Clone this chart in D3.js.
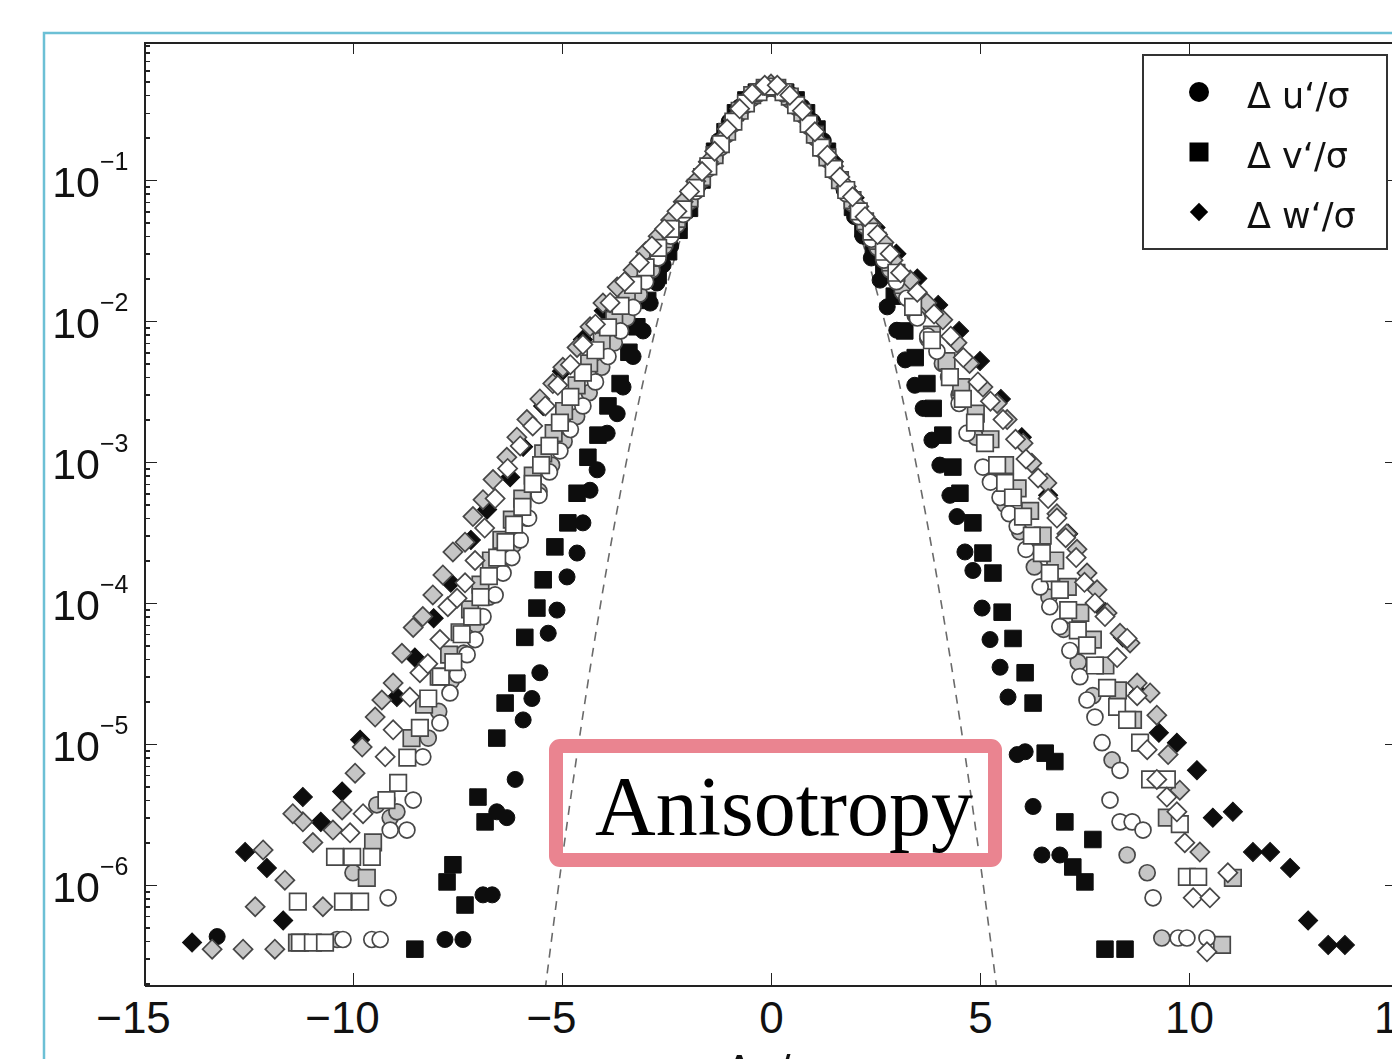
<!DOCTYPE html>
<html lang="en">
<head>
<meta charset="utf-8">
<style>
body { margin: 0; background: #fff; }
svg { display: block; }
.axis path, .axis line { stroke: #222; shape-rendering: crispEdges; }
.axis path { stroke-width: 2; }
.axis line { stroke-width: 1.5; }
.ticklabel { font-family: "Liberation Sans", Arial, sans-serif; fill: #111; }
.legend text { font-family: "DejaVu Sans", sans-serif; font-size: 35px; fill: #111; }
</style>
</head>
<body>
<script src="https://d3js.org/d3.v7.min.js"></script>
<svg id="chart" width="1392" height="1059"></svg>
<script>
// values: [x, pdf]
var blackCircles = [[-13.25,4.3e-7],[-7.80,4.1e-7],[-7.37,4.1e-7],[-6.89,8.5e-7],[-6.67,8.5e-7],[-6.56,3.3e-6],[-6.32,3.0e-6],[-6.12,5.6e-6],[-5.93,1.48e-5],[-5.72,2.1e-5],[-5.53,3.2e-5],[-5.33,6.1e-5],[-5.12,8.9e-5],[-4.88,1.53e-4],[-4.64,2.26e-4],[-4.50,3.7e-4],[-4.33,6.3e-4],[-4.16,8.8e-4],[-3.92,1.6e-3],[-3.68,2.2e-3],[-3.54,3.4e-3],[-3.30,5.6e-3],[-3.06,8.5e-3],[-2.89,0.0134],[-2.73,0.0186],[-2.58,0.025],[-2.4,0.034],[-2.2,0.045],[-2.0,0.060],[-1.75,0.09],[-1.5,0.13],[-1.25,0.19],[-1.0,0.26],[-0.75,0.33],[-0.5,0.40],[-0.25,0.44],[0,0.46],[0.25,0.44],[0.5,0.40],[0.75,0.33],[1.0,0.26],[1.25,0.19],[1.5,0.125],[1.75,0.085],[2.0,0.055],[2.2,0.040],[2.4,0.028],[2.61,0.0195],[2.78,0.0126],[3.01,8.6e-3],[3.21,5.3e-3],[3.44,3.5e-3],[3.64,2.4e-3],[3.85,1.43e-3],[4.04,9.5e-4],[4.28,5.8e-4],[4.45,4.1e-4],[4.64,2.3e-4],[4.83,1.7e-4],[5.05,9.2e-5],[5.24,5.5e-5],[5.48,3.5e-5],[5.67,2.15e-5],[5.89,8.4e-6],[6.08,8.8e-6],[6.27,3.6e-6],[6.48,1.63e-6],[6.91,1.63e-6]];

var blackSquares = [[-8.52,3.5e-7],[-7.32,7.2e-7],[-7.75,1.05e-6],[-7.61,1.39e-6],[-6.84,2.8e-6],[-7.01,4.2e-6],[-6.56,1.10e-5],[-6.36,1.95e-5],[-6.08,2.7e-5],[-5.89,5.7e-5],[-5.60,9.2e-5],[-5.45,1.46e-4],[-5.17,2.5e-4],[-4.86,3.7e-4],[-4.64,6.0e-4],[-4.38,1.08e-3],[-4.14,1.55e-3],[-3.90,2.5e-3],[-3.61,3.6e-3],[-3.40,6.0e-3],[-3.21,9.1e-3],[-2.95,0.014],[-2.7,0.021],[-2.45,0.031],[-2.2,0.044],[-1.95,0.063],[-1.65,0.10],[-1.35,0.16],[-1.1,0.22],[-0.85,0.30],[-0.6,0.37],[-0.35,0.42],[-0.1,0.45],[0.1,0.45],[0.35,0.42],[0.6,0.37],[0.85,0.30],[1.1,0.23],[1.35,0.16],[1.65,0.10],[1.95,0.064],[2.2,0.045],[2.45,0.032],[2.7,0.022],[2.95,0.015],[3.2,8.5e-3],[3.45,5.5e-3],[3.73,3.6e-3],[3.88,2.4e-3],[4.11,1.55e-3],[4.35,9.2e-4],[4.52,6.0e-4],[4.83,3.7e-4],[5.07,2.26e-4],[5.31,1.63e-4],[5.53,8.6e-5],[5.79,5.6e-5],[6.08,3.2e-5],[6.27,1.95e-5],[6.56,8.6e-6],[6.79,7.5e-6],[7.03,2.8e-6],[7.70,2.1e-6],[7.22,1.34e-6],[7.51,1.05e-6],[7.99,3.5e-7],[8.47,3.5e-7]];

var blackDiamonds = [[-13.85,3.9e-7],[-12.58,1.71e-6],[-12.06,1.32e-6],[-11.67,5.6e-7],[-11.20,4.2e-6],[-10.77,2.8e-6],[-10.26,4.6e-6],[-9.83,1.07e-5],[-8.95,2.15e-5],[-8.52,4.1e-5],[-8.07,7.8e-5],[-7.66,1.39e-4],[-7.18,2.8e-4],[-6.79,4.6e-4],[-6.24,7.8e-4],[-5.93,1.28e-3],[-5.45,2.5e-3],[-5.0,4.4e-3],[-4.5,7.4e-3],[-4.0,0.0118],[-3.5,0.019],[-3.0,0.029],[-2.5,0.045],[-2.0,0.075],[-1.5,0.135],[-1.0,0.24],[-0.5,0.38],[0,0.46],[0.5,0.38],[1.0,0.24],[1.5,0.135],[2.0,0.075],[2.5,0.046],[3.0,0.030],[3.5,0.020],[4.0,0.013],[4.5,8.5e-3],[5.0,5.2e-3],[5.5,2.8e-3],[6.0,1.5e-3],[6.63,5.8e-4],[7.11,3.1e-4],[7.56,1.63e-4],[8.0,8.6e-5],[8.42,5.7e-5],[8.80,2.3e-5],[9.28,1.2e-5],[9.71,1.02e-5],[10.19,6.5e-6],[10.57,3.0e-6],[11.05,3.3e-6],[11.53,1.71e-6],[11.94,1.71e-6],[12.42,1.32e-6],[12.85,5.6e-7],[13.33,3.75e-7],[13.73,3.75e-7]];

var grayCircles = [[-10.38,4.1e-7],[-10.0,1.22e-6],[-9.43,3.7e-6],[-9.11,3.0e-6],[-8.95,3.3e-6],[-8.2,1.1e-5],[-7.95,1.7e-5],[-7.65,2.8e-5],[-7.35,4.4e-5],[-7.05,7.0e-5],[-6.75,1.1e-4],[-6.45,1.7e-4],[-6.15,2.6e-4],[-5.85,4.0e-4],[-5.55,6.2e-4],[-5.25,9.5e-4],[-4.95,1.4e-3],[-4.65,2.1e-3],[-4.35,3.1e-3],[-4.05,4.7e-3],[-3.75,7.0e-3],[-3.45,0.0105],[-3.15,0.0155],[-2.85,0.023],[-2.55,0.034],[-2.25,0.048],[-1.95,0.070],[-1.65,0.10],[-1.35,0.145],[-1.05,0.21],[-0.75,0.30],[-0.45,0.38],[-0.15,0.44],[0.15,0.44],[0.45,0.37],[0.75,0.29],[1.05,0.20],[1.35,0.14],[1.65,0.097],[1.95,0.068],[2.25,0.047],[2.55,0.033],[2.85,0.023],[3.15,0.016],[3.45,0.011],[3.75,7.5e-3],[4.1,5.0e-3],[4.5,3.0e-3],[4.9,1.5e-3],[5.25,9.0e-4],[5.6,5.0e-4],[5.95,3.2e-4],[6.3,1.8e-4],[6.65,1.1e-4],[7.0,6.5e-5],[7.35,3.8e-5],[7.7,2.2e-5],[8.16,7.7e-6],[8.52,1.63e-6],[9.00,1.22e-6],[9.35,4.2e-7]];

var graySquares = [[-11.34,3.9e-7],[-9.67,1.12e-6],[-9.52,2.0e-6],[-8.6,1.1e-5],[-8.3,1.9e-5],[-7.95,3.0e-5],[-7.7,4.3e-5],[-7.45,6.2e-5],[-7.2,9.0e-5],[-6.95,1.35e-4],[-6.7,2.0e-4],[-6.45,2.8e-4],[-6.2,3.9e-4],[-5.95,5.5e-4],[-5.7,8.0e-4],[-5.45,1.15e-3],[-5.2,1.6e-3],[-4.95,2.3e-3],[-4.65,3.5e-3],[-4.35,5.0e-3],[-4.05,7.2e-3],[-3.75,0.0102],[-3.45,0.0145],[-3.15,0.020],[-2.85,0.028],[-2.55,0.038],[-2.25,0.053],[-1.95,0.074],[-1.65,0.105],[-1.35,0.15],[-1.05,0.22],[-0.75,0.31],[-0.45,0.40],[-0.15,0.45],[0.15,0.45],[0.45,0.39],[0.75,0.30],[1.05,0.21],[1.35,0.145],[1.65,0.10],[1.95,0.072],[2.25,0.051],[2.55,0.037],[2.85,0.026],[3.15,0.018],[3.5,0.012],[3.85,8.0e-3],[4.2,5.2e-3],[4.55,3.4e-3],[4.9,2.2e-3],[5.25,1.45e-3],[5.6,9.5e-4],[5.9,6.5e-4],[6.2,4.5e-4],[6.5,3.0e-4],[6.8,2.0e-4],[7.1,1.3e-4],[7.4,8.5e-5],[7.7,5.5e-5],[8.0,3.6e-5],[8.3,2.4e-5],[8.66,1.48e-5],[9.47,3.0e-6],[10.79,3.75e-7],[11.05,1.12e-6]];

var grayDiamonds = [[-13.37,3.5e-7],[-12.63,3.5e-7],[-11.87,3.5e-7],[-12.34,7.0e-7],[-10.72,7.0e-7],[-11.63,1.08e-6],[-12.15,1.77e-6],[-10.96,2.0e-6],[-10.48,2.45e-6],[-11.20,2.8e-6],[-11.44,3.2e-6],[-10.26,3.4e-6],[-9.95,6.2e-6],[-9.78,9.5e-6],[-9.47,1.55e-5],[-9.31,2.05e-5],[-9.04,2.7e-5],[-8.83,4.4e-5],[-8.56,6.7e-5],[-8.33,8.0e-5],[-8.09,1.14e-4],[-7.85,1.58e-4],[-7.61,2.3e-4],[-7.32,2.7e-4],[-7.13,4.1e-4],[-6.89,5.4e-4],[-6.65,7.5e-4],[-6.32,1.08e-3],[-6.08,1.5e-3],[-5.84,2.0e-3],[-5.53,2.8e-3],[-5.22,3.6e-3],[-4.98,4.7e-3],[-4.64,6.5e-3],[-4.33,9.1e-3],[-4.02,0.0134],[-3.68,0.0174],[-3.3,0.023],[-3.0,0.031],[-2.7,0.040],[-2.4,0.052],[-2.1,0.070],[-1.8,0.098],[-1.5,0.135],[-1.2,0.19],[-0.9,0.27],[-0.6,0.36],[-0.3,0.43],[0,0.48],[0.3,0.43],[0.6,0.35],[0.9,0.26],[1.2,0.18],[1.5,0.125],[1.8,0.09],[2.1,0.065],[2.4,0.048],[2.7,0.036],[2.92,0.027],[3.33,0.0195],[3.73,0.0134],[4.11,0.0102],[4.45,7.0e-3],[4.75,5.0e-3],[5.07,3.4e-3],[5.41,2.6e-3],[5.65,2.0e-3],[6.03,1.36e-3],[6.24,9.8e-4],[6.60,7.1e-4],[6.84,4.3e-4],[7.08,3.1e-4],[7.32,2.4e-4],[7.56,1.63e-4],[7.80,1.24e-4],[8.04,8.5e-5],[8.35,6.1e-5],[8.59,5.2e-5],[8.76,2.7e-5],[9.07,2.3e-5],[9.23,1.6e-5],[9.50,8.4e-6],[9.78,4.7e-6],[10.26,1.71e-6]];

var whiteCircles = [[-10.24,4.1e-7],[-9.55,4.1e-7],[-9.35,4.1e-7],[-9.16,8.1e-7],[-9.11,2.45e-6],[-8.71,2.45e-6],[-9.19,4.0e-6],[-8.56,4.0e-6],[-8.33,8.1e-6],[-7.92,1.41e-5],[-7.68,2.3e-5],[-7.5,3.1e-5],[-7.27,4.3e-5],[-7.08,5.5e-5],[-6.89,8.0e-5],[-6.6,1.14e-4],[-6.41,1.63e-4],[-6.2,2.1e-4],[-6.0,2.8e-4],[-5.8,4.0e-4],[-5.55,5.8e-4],[-5.3,8.5e-4],[-5.05,1.2e-3],[-4.8,1.7e-3],[-4.5,2.5e-3],[-4.2,3.7e-3],[-3.9,5.6e-3],[-3.6,8.5e-3],[-3.3,0.0125],[-3.0,0.019],[-2.7,0.028],[-2.4,0.040],[-2.1,0.057],[-1.8,0.083],[-1.5,0.12],[-1.2,0.17],[-0.9,0.25],[-0.6,0.34],[-0.3,0.41],[0,0.45],[0.3,0.41],[0.6,0.33],[0.9,0.24],[1.2,0.165],[1.5,0.115],[1.8,0.080],[2.1,0.055],[2.4,0.038],[2.7,0.027],[3.0,0.019],[3.25,0.0145],[3.5,0.0105],[3.75,7.8e-3],[3.97,6.1e-3],[4.25,4.0e-3],[4.5,2.6e-3],[4.69,1.6e-3],[5.07,9.2e-4],[5.25,7.2e-4],[5.48,5.6e-4],[5.7,4.3e-4],[5.89,3.5e-4],[6.1,2.4e-4],[6.44,1.3e-4],[6.67,9.4e-5],[6.91,6.8e-5],[7.15,4.6e-5],[7.39,3.0e-5],[7.56,2.05e-5],[7.75,1.55e-5],[7.92,1.02e-5],[8.35,6.5e-6],[8.11,4.0e-6],[8.35,2.8e-6],[8.64,2.8e-6],[8.90,2.45e-6],[9.14,8.1e-7],[9.74,4.2e-7],[9.95,4.2e-7],[10.43,4.2e-7]];

var whiteSquares = [[-11.27,3.9e-7],[-10.96,3.9e-7],[-10.67,3.9e-7],[-11.32,7.6e-7],[-10.24,7.6e-7],[-9.83,7.6e-7],[-10.43,1.58e-6],[-10.02,1.58e-6],[-9.55,1.58e-6],[-9.2,4.0e-6],[-8.92,5.3e-6],[-8.7,8.0e-6],[-8.4,1.3e-5],[-8.2,2.1e-5],[-7.9,3.0e-5],[-7.6,3.8e-5],[-7.4,6.0e-5],[-7.15,8.0e-5],[-6.95,1.1e-4],[-6.75,1.55e-4],[-6.55,2.1e-4],[-6.35,2.7e-4],[-6.15,3.6e-4],[-5.95,4.8e-4],[-5.7,7.0e-4],[-5.5,9.5e-4],[-5.3,1.3e-3],[-5.05,1.9e-3],[-4.8,2.9e-3],[-4.5,4.3e-3],[-4.2,6.2e-3],[-3.9,9.0e-3],[-3.6,0.0128],[-3.3,0.018],[-3.0,0.024],[-2.7,0.033],[-2.4,0.045],[-2.1,0.062],[-1.8,0.088],[-1.5,0.125],[-1.2,0.18],[-0.9,0.26],[-0.6,0.35],[-0.3,0.42],[0,0.46],[0.3,0.42],[0.6,0.34],[0.9,0.25],[1.2,0.17],[1.5,0.12],[1.8,0.085],[2.1,0.060],[2.4,0.043],[2.7,0.031],[3.0,0.022],[3.40,0.0126],[3.85,7.3e-3],[4.28,4.0e-3],[4.59,2.8e-3],[4.88,1.9e-3],[5.12,1.36e-3],[5.41,9.5e-4],[5.60,7.1e-4],[5.79,5.6e-4],[6.03,4.1e-4],[6.24,3.0e-4],[6.48,2.26e-4],[6.67,1.63e-4],[6.91,1.24e-4],[7.11,8.9e-5],[7.34,6.4e-5],[7.56,5.0e-5],[7.75,3.6e-5],[8.04,2.5e-5],[8.28,1.83e-5],[8.52,1.48e-5],[8.83,1.02e-5],[9.07,5.6e-6],[9.47,5.6e-6],[9.78,2.7e-6],[9.95,1.14e-6],[10.22,1.14e-6]];

var whiteDiamonds = [[-10.07,2.34e-6],[-9.76,3.2e-6],[-9.23,8.1e-6],[-9.04,1.26e-5],[-8.64,2.15e-5],[-8.40,3.2e-5],[-8.21,3.7e-5],[-7.92,5.5e-5],[-7.73,9.4e-5],[-7.51,1.08e-4],[-7.32,1.39e-4],[-7.08,2.0e-4],[-6.85,3.4e-4],[-6.6,5.5e-4],[-6.3,9.0e-4],[-6.0,1.3e-3],[-5.7,1.8e-3],[-5.4,2.5e-3],[-5.1,3.5e-3],[-4.8,4.9e-3],[-4.5,6.8e-3],[-4.2,9.5e-3],[-3.85,0.0135],[-3.5,0.019],[-3.15,0.026],[-2.85,0.034],[-2.55,0.045],[-2.25,0.060],[-1.95,0.083],[-1.65,0.115],[-1.35,0.16],[-1.05,0.23],[-0.75,0.32],[-0.45,0.41],[-0.15,0.47],[0.15,0.47],[0.45,0.40],[0.75,0.31],[1.05,0.22],[1.35,0.15],[1.65,0.105],[1.95,0.076],[2.25,0.055],[2.55,0.041],[2.85,0.030],[3.1,0.022],[3.5,0.016],[3.9,0.0112],[4.3,7.8e-3],[4.6,5.5e-3],[4.95,3.7e-3],[5.25,2.7e-3],[5.55,2.0e-3],[5.85,1.45e-3],[6.1,1.05e-3],[6.39,7.7e-4],[6.63,5.5e-4],[6.84,4.0e-4],[7.05,2.9e-4],[7.3,2.1e-4],[7.5,1.4e-4],[7.75,1.0e-4],[7.99,8.0e-5],[8.28,4.1e-5],[8.52,5.6e-5],[8.76,2.2e-5],[9.00,9.1e-6],[9.23,5.6e-6],[9.47,4.2e-6],[9.71,3.3e-6],[9.90,1.99e-6],[10.10,8.1e-7],[10.50,8.1e-7],[10.93,1.22e-6],[10.43,3.35e-7]];

// dashed reference curve
var gaussX = [-5.5,-5,-4.5,-4,-3.5,-3,-2.5,-2,-1.5,-1,-0.5,0,0.5,1,1.5,2,2.5,3,3.5,4,4.5,5,5.5];
var gaussY = [1.08e-7,1.49e-6,1.60e-5,1.34e-4,8.73e-4,4.43e-3,1.75e-2,5.40e-2,0.130,0.242,0.352,0.399,0.352,0.242,0.130,5.40e-2,1.75e-2,4.43e-3,8.73e-4,1.34e-4,1.60e-5,1.49e-6,1.08e-7];

var xTicks = [-15, -10, -5, 0, 5, 10, 15];
var yExponents = [-1, -2, -3, -4, -5, -6];
var legendLabels = ["\u0394 u\u2018/\u03c3", "\u0394 v\u2018/\u03c3", "\u0394 w\u2018/\u03c3"];
var legendShapes = ["circle", "square", "diamond"];
var xLabel = "\u0394u/\u03c3";
var boxText = "Anisotropy";

var svg = d3.select("#chart");

var x = d3.scaleLinear().domain([-15, 15]).range([144, 1398]);
var y = d3.scaleLog().domain([1.95e-7, 0.953]).range([985, 42]);

// soft edges like the scanned figure
var defs = svg.append("defs");
defs.append("filter").attr("id", "soft").append("feGaussianBlur").attr("stdDeviation", 0.6);
defs.append("clipPath").attr("id", "plotclip").append("rect")
  .attr("x", 144).attr("y", 42).attr("width", 1254).attr("height", 943);

// slide frame
svg.append("rect").attr("x", 44).attr("y", 33).attr("width", 1500).attr("height", 1200)
  .attr("fill", "none").attr("stroke", "#6cc0d5").attr("stroke-width", 2.5);

// dashed gaussian
var line = d3.line().x(function(d, i) { return x(gaussX[i]); })
  .y(function(d) { return y(d); }).curve(d3.curveNatural);
svg.append("path").attr("clip-path", "url(#plotclip)")
  .attr("d", line(gaussY)).attr("fill", "none")
  .attr("stroke", "#6a6a6a").attr("stroke-width", 1.6).attr("stroke-dasharray", "9,7");

// markers
var tones = {
  black: { fill: "#0b0b0b", stroke: "#0b0b0b", sw: 1 },
  gray:  { fill: "#c6c6c6", stroke: "#474747", sw: 1.7 },
  white: { fill: "#ffffff", stroke: "#474747", sw: 1.7 }
};
var symbolFor = {
  circle: d3.symbol().type(d3.symbolCircle).size(Math.PI * 8 * 8),
  square: d3.symbol().type(d3.symbolSquare).size(16.5 * 16.5),
  diamond: d3.symbol().type(d3.symbolSquare).size(13.5 * 13.5)
};
var series = [
  { data: blackCircles, shape: "circle", tone: "black" },
  { data: blackSquares, shape: "square", tone: "black" },
  { data: blackDiamonds, shape: "diamond", tone: "black" },
  { data: grayCircles, shape: "circle", tone: "gray" },
  { data: graySquares, shape: "square", tone: "gray" },
  { data: grayDiamonds, shape: "diamond", tone: "gray" },
  { data: whiteCircles, shape: "circle", tone: "white" },
  { data: whiteSquares, shape: "square", tone: "white" },
  { data: whiteDiamonds, shape: "diamond", tone: "white" }
];

var marks = svg.append("g").attr("filter", "url(#soft)");
series.forEach(function(s) {
  var t = tones[s.tone];
  marks.append("g").selectAll("path").data(s.data).enter().append("path")
    .attr("d", symbolFor[s.shape]())
    .attr("transform", function(d) {
      return "translate(" + x(d[0]) + "," + y(d[1]) + ")" + (s.shape === "diamond" ? " rotate(45)" : "");
    })
    .attr("fill", t.fill).attr("stroke", t.stroke).attr("stroke-width", t.sw);
});

// axes
var minus = function(d) { return d < 0 ? "\u2212" + Math.abs(d) : String(d); };
var gx = svg.append("g").attr("class", "axis").attr("transform", "translate(0,985)")
  .call(d3.axisBottom(x).tickValues(xTicks).tickSize(-12).tickSizeOuter(0).tickPadding(17).tickFormat(minus));
gx.selectAll("text").attr("class", "ticklabel").style("font-size", "44px")
  .attr("dx", function(d) { return d < 0 ? -11 : 0; });

svg.append("g").attr("class", "axis").attr("transform", "translate(0,42)")
  .call(d3.axisTop(x).tickValues(xTicks).tickSize(-12).tickSizeOuter(0).tickFormat(""));

var allY = y.ticks();
var isMajor = function(d) { var l = Math.log10(d); return Math.abs(l - Math.round(l)) < 1e-6; };
var yMajor = allY.filter(isMajor), yMinor = allY.filter(function(d) { return !isMajor(d); });

[[144, d3.axisLeft], [1398, d3.axisRight]].forEach(function(p) {
  svg.append("g").attr("class", "axis").attr("transform", "translate(" + p[0] + ",0)")
    .call(p[1](y).tickValues(yMinor).tickSize(-6).tickSizeOuter(0).tickFormat(""));
  svg.append("g").attr("class", "axis").attr("transform", "translate(" + p[0] + ",0)")
    .call(p[1](y).tickValues(yMajor).tickSize(-13).tickSizeOuter(0).tickFormat(""));
});

var yl = svg.append("g");
yExponents.forEach(function(e) {
  var py = y(Math.pow(10, e));
  yl.append("text").attr("class", "ticklabel").attr("x", 100).attr("y", py + 17)
    .attr("text-anchor", "end").style("font-size", "43px").text("10");
  yl.append("text").attr("class", "ticklabel").attr("x", 100).attr("y", py - 10)
    .style("font-size", "25px").text("\u2212" + Math.abs(e));
});

svg.append("text").attr("class", "ticklabel").attr("x", x(0)).attr("y", 1086)
  .attr("text-anchor", "middle").style("font-size", "44px").text(xLabel);

// legend
var lg = svg.append("g").attr("class", "legend");
lg.append("rect").attr("x", 1143).attr("y", 55).attr("width", 244).attr("height", 194)
  .attr("fill", "#fff").attr("stroke", "#333").attr("stroke-width", 2);
var legendSym = {
  circle: d3.symbol().type(d3.symbolCircle).size(Math.PI * 10 * 10),
  square: d3.symbol().type(d3.symbolSquare).size(19 * 19),
  diamond: d3.symbol().type(d3.symbolSquare).size(13 * 13)
};
legendLabels.forEach(function(lab, i) {
  var cy = 92 + i * 60;
  lg.append("path").attr("d", legendSym[legendShapes[i]]())
    .attr("transform", "translate(1199," + cy + ")" + (legendShapes[i] === "diamond" ? " rotate(45)" : ""))
    .attr("fill", "#000");
  lg.append("text").attr("x", 1247).attr("y", cy + 16).text(lab);
});

// annotation box
svg.append("rect").attr("x", 556).attr("y", 746).attr("width", 439).attr("height", 114)
  .attr("rx", 4).attr("fill", "none").attr("stroke", "#ea8490").attr("stroke-width", 14);
svg.append("text").attr("x", 595).attr("y", 835)
  .style("font-family", "'Liberation Serif', 'Times New Roman', serif").style("font-size", "84px")
  .attr("fill", "#000").text(boxText);
</script>
</body>
</html>
